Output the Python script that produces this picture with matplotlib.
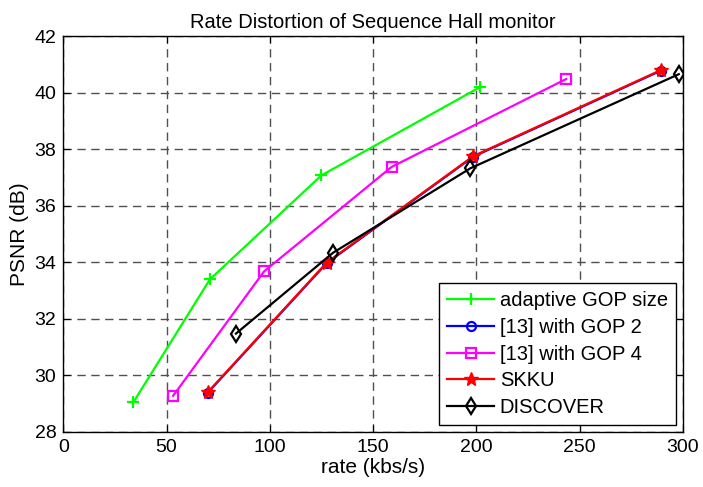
import matplotlib
matplotlib.use("Agg")
import matplotlib.pyplot as plt

rate_adaptive = [34, 71, 125, 202]
psnr_adaptive = [29.05, 33.39, 37.07, 40.2]
rate_gop2 = [70, 127.5, 198.5, 289.5]
psnr_gop2 = [29.38, 33.96, 37.73, 40.78]
rate_gop4 = [53.2, 97.2, 159, 243.5]
psnr_gop4 = [29.27, 33.67, 37.37, 40.48]
rate_skku = [70, 127.5, 198.5, 289.5]
psnr_skku = [29.4, 33.98, 37.75, 40.8]
rate_discover = [83.6, 130.6, 197.1, 298]
psnr_discover = [31.47, 34.33, 37.32, 40.65]

plt.rcParams['font.family'] = ['Liberation Sans', 'DejaVu Sans']

fig = plt.figure(figsize=(7.03, 4.87), dpi=100)
ax = fig.add_axes([0.090, 0.1136, 0.8814, 0.8124])

lw = 1.6
ax.plot(rate_adaptive, psnr_adaptive, color='#00ff00', marker='+', ms=9, mew=1.6, lw=lw, label='adaptive GOP size')
ax.plot(rate_gop2, psnr_gop2, color='#0000ff', marker='o', ms=6.5, mew=1.6, mfc='none', lw=lw, label='[13] with GOP 2')
ax.plot(rate_gop4, psnr_gop4, color='#ff00ff', marker='s', ms=7, mew=1.6, mfc='none', lw=lw, label='[13] with GOP 4')
ax.plot(rate_skku, psnr_skku, color='#ff0000', marker='*', ms=10, mew=1.0, lw=lw, label='SKKU')
ax.plot(rate_discover, psnr_discover, color='black', marker='d', ms=8, mew=1.6, mfc='none', lw=lw, label='DISCOVER')

ax.set_xlim(0, 300)
ax.set_ylim(28, 42)
ax.set_xticks(range(0, 301, 50))
ax.set_yticks(range(28, 43, 2))
ax.grid(True, color='#505050', linestyle=(0, (6, 4)), linewidth=1.0)
ax.tick_params(direction='in', labelsize=14, length=5, pad=5, top=True, right=True, labeltop=False, labelright=False)
for s in ax.spines.values():
    s.set_linewidth(1.0)

ax.set_title('Rate Distortion of Sequence Hall monitor', fontsize=14.5, pad=6)
ax.set_xlabel('rate (kbs/s)', fontsize=15, labelpad=2)
ax.set_ylabel('PSNR (dB)', fontsize=15, labelpad=4)

leg = ax.legend(loc='lower right', bbox_to_anchor=(676/703, 1-425/487), bbox_transform=fig.transFigure,
                fontsize=14.5, fancybox=False, framealpha=1, edgecolor='black', borderaxespad=0,
                handlelength=2.3, handletextpad=0.3, labelspacing=0.38, borderpad=0.4)
leg.get_frame().set_linewidth(1.0)

fig.savefig('out.png', dpi=100)
